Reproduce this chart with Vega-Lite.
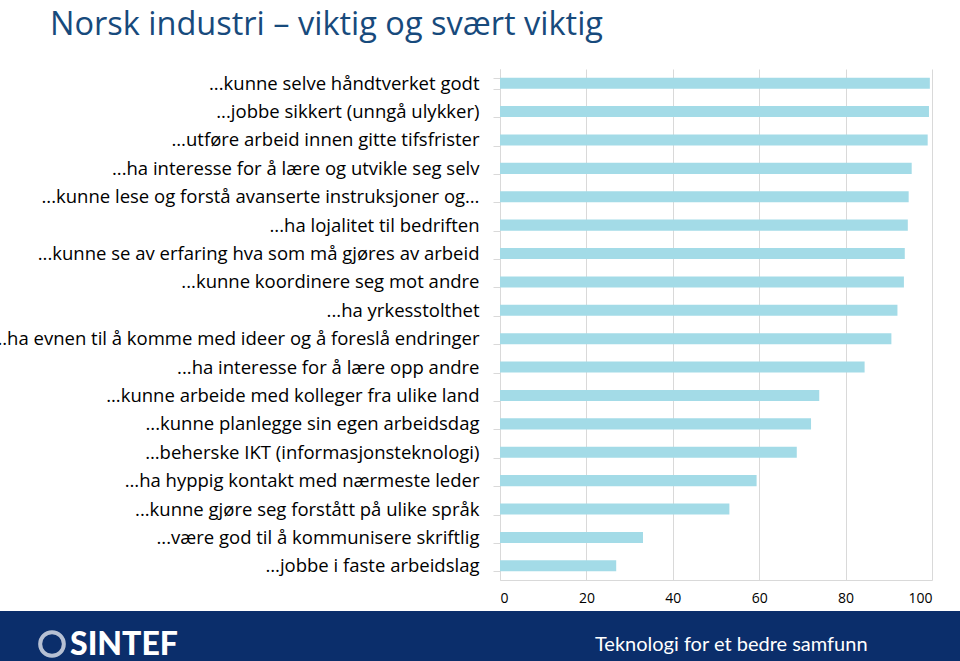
{
  "$schema": "https://vega.github.io/schema/vega-lite/v6.json",
  "autosize": "none",
  "width": 432,
  "height": 511,
  "padding": {"left": 500, "top": 69, "right": 28, "bottom": 81},
  "background": "white",
  "title": {
    "text": "Norsk industri – viktig og svært viktig",
    "anchor": "start",
    "frame": "group",
    "dx": -450,
    "dy": 23,
    "offset": 16,
    "baseline": "alphabetic",
    "font": "Open Sans",
    "fontSize": 32.5,
    "fontWeight": "normal",
    "color": "#174a7c"
  },
  "config": {
    "view": {"stroke": null},
    "font": "Open Sans"
  },
  "resolve": {"scale": {"x": "independent", "y": "independent"}},
  "layer": [
    {
      "data": {
        "values": [
          {"item": "...kunne selve håndtverket godt", "pct": 99.5},
          {"item": "...jobbe sikkert (unngå ulykker)", "pct": 99.3},
          {"item": "…utføre arbeid innen gitte tifsfrister", "pct": 99.0},
          {"item": "...ha interesse for å lære og utvikle seg selv", "pct": 95.3},
          {"item": "...kunne lese og forstå avanserte instruksjoner og…", "pct": 94.6},
          {"item": "...ha lojalitet til bedriften", "pct": 94.4},
          {"item": "...kunne se av erfaring hva som må gjøres av arbeid", "pct": 93.7},
          {"item": "...kunne koordinere seg mot andre", "pct": 93.5},
          {"item": "...ha yrkesstolthet", "pct": 92.0},
          {"item": "...ha evnen til å komme med ideer og å foreslå endringer", "pct": 90.6},
          {"item": "...ha interesse for å lære opp andre", "pct": 84.4},
          {"item": "...kunne arbeide med kolleger fra ulike land", "pct": 73.9},
          {"item": "...kunne planlegge sin egen arbeidsdag", "pct": 72.0},
          {"item": "…beherske IKT (informasjonsteknologi)", "pct": 68.7},
          {"item": "…ha hyppig kontakt med nærmeste leder", "pct": 59.4},
          {"item": "...kunne gjøre seg forstått på ulike språk", "pct": 53.1},
          {"item": "...være god til å kommunisere skriftlig", "pct": 33.1},
          {"item": "…jobbe i faste arbeidslag", "pct": 26.9}
        ]
      },
      "mark": {"type": "bar", "color": "#a3dbe7"},
      "encoding": {
        "y": {
          "field": "item",
          "type": "nominal",
          "sort": null,
          "scale": {"paddingInner": 0.61, "paddingOuter": 0.305},
          "axis": {
            "title": null,
            "tickBand": "extent",
            "tickSize": 7,
            "tickColor": "#d9d9d9",
            "domainColor": "#d9d9d9",
            "labelPadding": 14,
            "labelFontSize": 18.5,
            "labelColor": "#000000",
            "labelLimit": 700,
            "labelFont": "Open Sans"
          }
        },
        "x": {
          "field": "pct",
          "type": "quantitative",
          "scale": {"domain": [0, 100], "nice": false},
          "axis": {
            "title": null,
            "values": [0, 20, 40, 60, 80, 100],
            "ticks": false,
            "tickSize": 0,
            "labelPadding": 11,
            "labelFontSize": 14,
            "labelColor": "#000000",
            "labelFont": "Open Sans",
            "gridColor": "#d9d9d9",
            "domainColor": "#d9d9d9"
          }
        }
      }
    },
    {
      "data": {"values": [{"item": "footer"}]},
      "mark": {"type": "rect", "color": "#0b2e6b", "clip": false},
      "encoding": {
        "x": {"field": "item", "type": "nominal", "scale": {"type": "band", "range": [-500, 460], "paddingInner": 0, "paddingOuter": 0}, "axis": null},
        "y": {"field": "item", "type": "nominal", "scale": {"type": "band", "range": [542, 592], "paddingInner": 0, "paddingOuter": 0}, "axis": null}
      }
    },
    {
      "data": {"values": [{"item": "logo"}]},
      "mark": {"type": "point", "shape": "circle", "filled": false, "stroke": "white", "strokeWidth": 4, "size": 560, "clip": false},
      "encoding": {
        "x": {"field": "item", "type": "nominal", "scale": {"range": [-448, -448]}, "axis": null},
        "y": {"field": "item", "type": "nominal", "scale": {"range": [575, 575]}, "axis": null}
      }
    },
    {
      "data": {"values": [{"item": "SINTEF"}]},
      "mark": {"type": "text", "align": "left", "baseline": "middle", "color": "white", "font": "Lato", "fontSize": 32, "fontWeight": 900, "clip": false},
      "encoding": {
        "x": {"field": "item", "type": "nominal", "scale": {"range": [-430, -430]}, "axis": null},
        "y": {"field": "item", "type": "nominal", "scale": {"range": [576, 576]}, "axis": null},
        "text": {"field": "item"}
      }
    },
    {
      "data": {"values": [{"item": "Teknologi for et bedre samfunn"}]},
      "mark": {"type": "text", "align": "left", "baseline": "middle", "color": "white", "font": "Lato", "fontSize": 20, "clip": false},
      "encoding": {
        "x": {"field": "item", "type": "nominal", "scale": {"range": [95, 95]}, "axis": null},
        "y": {"field": "item", "type": "nominal", "scale": {"range": [576, 576]}, "axis": null},
        "text": {"field": "item"}
      }
    }
  ]
}
